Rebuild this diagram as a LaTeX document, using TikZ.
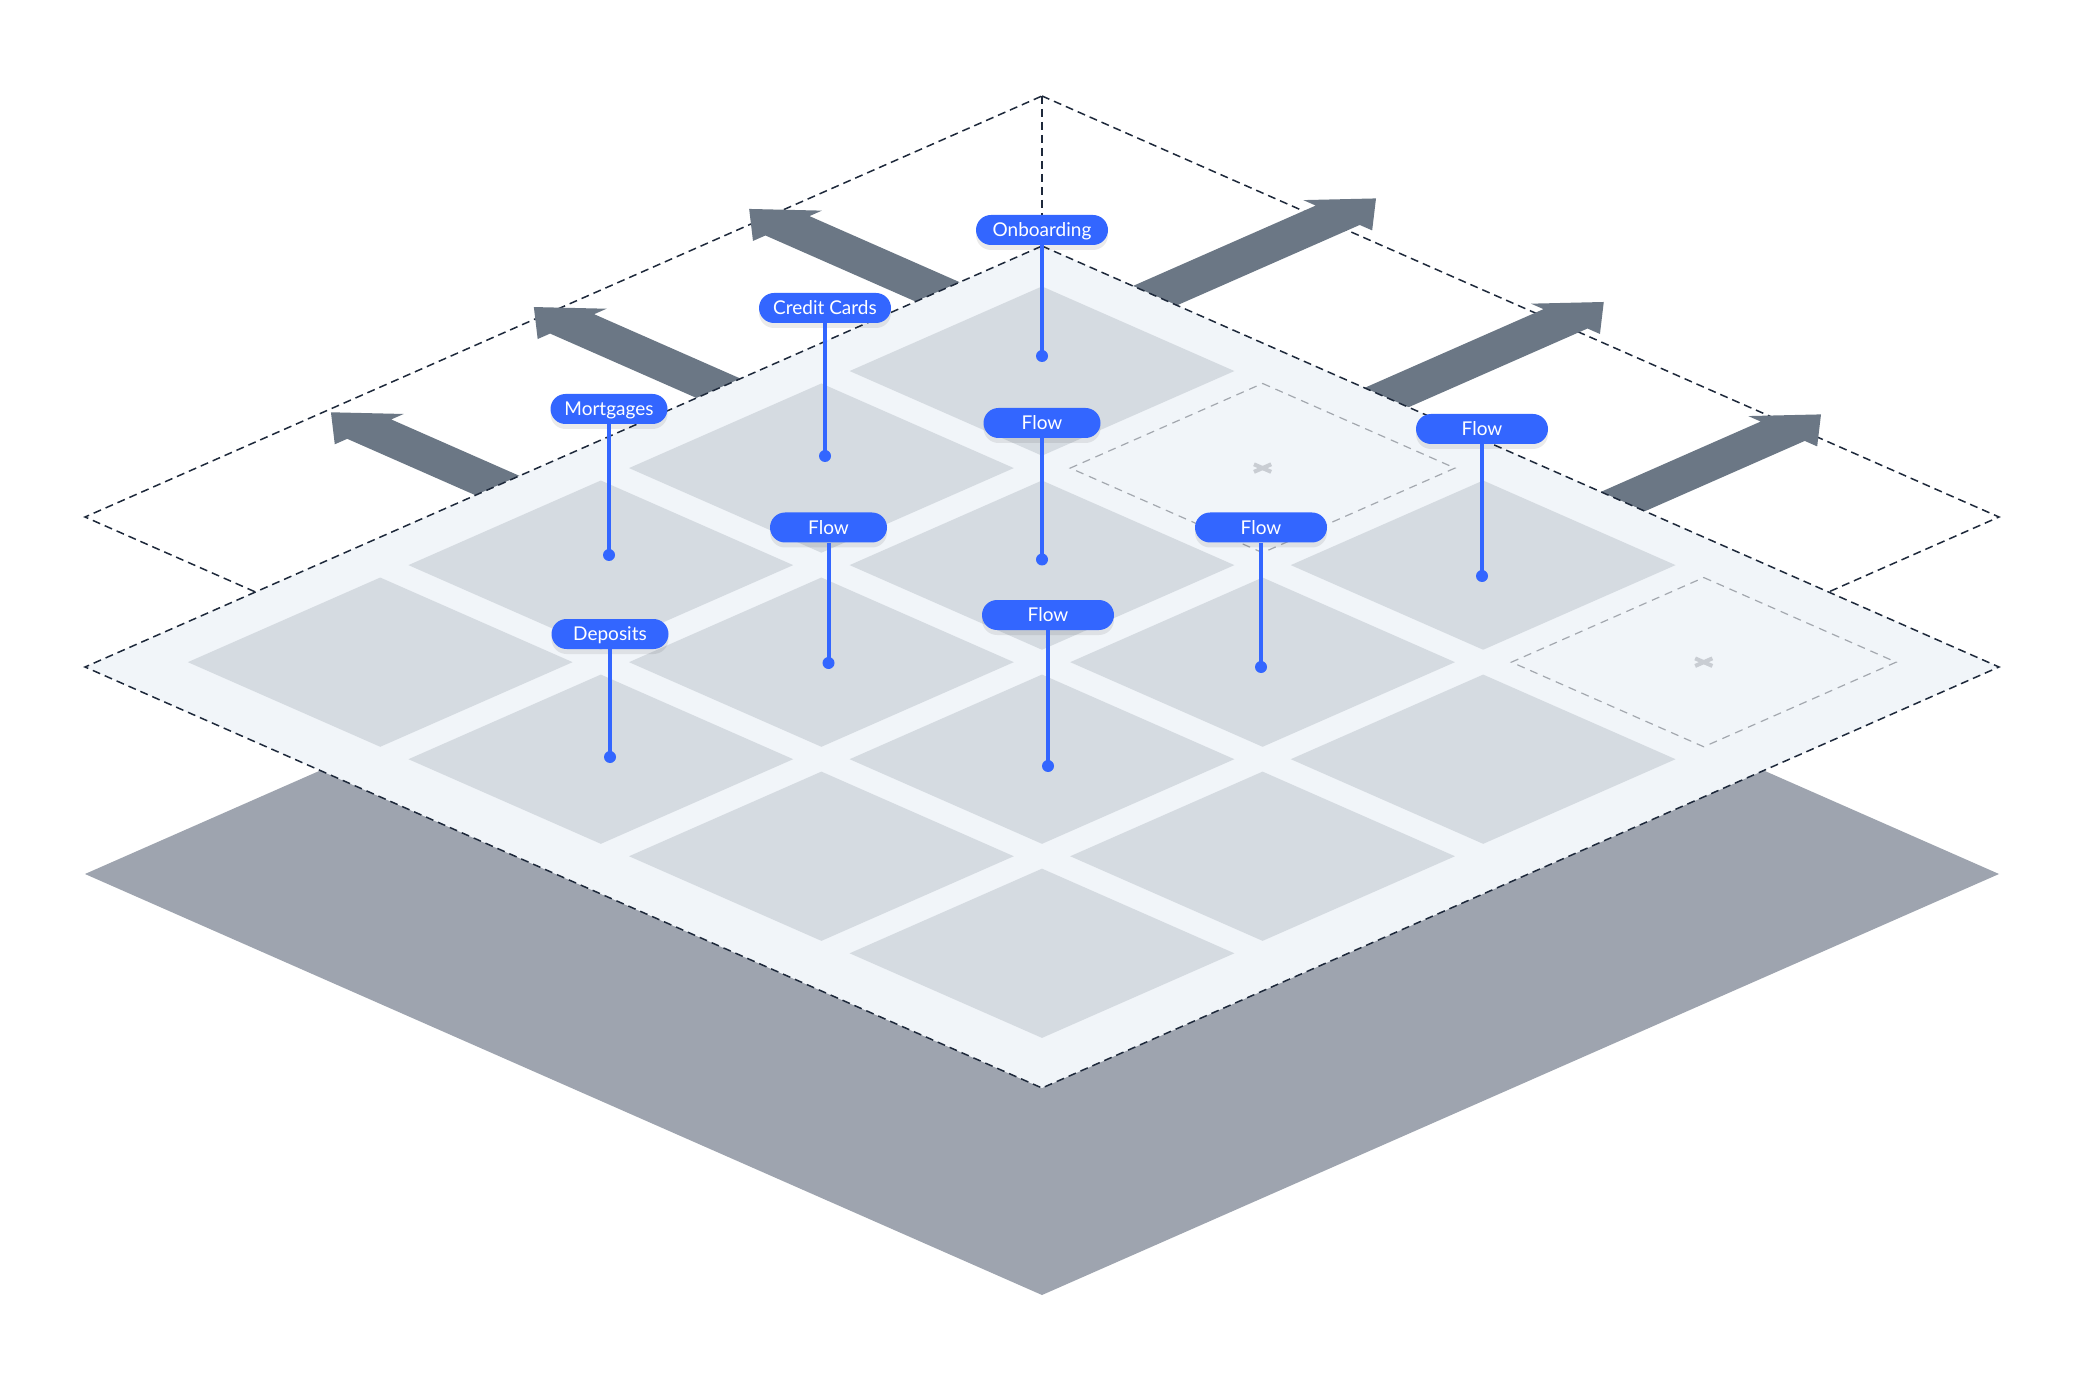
\documentclass[tikz,border=0pt]{standalone}
\usepackage{fontspec}
\setmainfont{Lato}
\usetikzlibrary{shadows}
\definecolor{pillC}{HTML}{3366FF}
\definecolor{arrowC}{HTML}{6B7785}
\definecolor{darkC}{HTML}{9EA4AF}
\definecolor{planeC}{HTML}{F1F5F9}
\definecolor{cellC}{HTML}{D5DBE1}
\definecolor{edgeC}{HTML}{1E293B}
\definecolor{emptyC}{HTML}{A3A8AF}
\definecolor{xmarkC}{HTML}{C9CDD3}
\begin{document}
\begin{tikzpicture}[x=0.5pt,y=-0.5pt,
  edgedash/.style={draw=edgeC, line width=0.75pt, dash pattern=on 4pt off 2.5pt},
  emptycell/.style={draw=emptyC, line width=0.6pt, dash pattern=on 4pt off 3pt},
  xmarkline/.style={draw=xmarkC, line width=2pt},
  pill/.style={fill=pillC, rounded corners=7.5pt, minimum height=15pt, inner sep=0pt,
    text=white, font=\fontsize{9.5}{11}\selectfont, text height=6.8pt, text depth=0pt,
    drop shadow={shadow xshift=0pt, shadow yshift=-2.5pt, fill=black, opacity=0.08}},
  pillwide/.style={pill, minimum width=66pt},
  pillnarrow/.style={pill, minimum width=58.5pt},
  stem/.style={draw=pillC, line width=2pt},
  pin/.style={fill=pillC}
]
\useasboundingbox (0,0) rectangle (2084,1390);
\fill[white] (0,0) rectangle (2084,1390);

\begin{scope}[xshift=521pt, yshift=-123pt, x={(478.5pt,-210.5pt)}, y={(-478.5pt,-210.5pt)}]
  % base plane
  \begin{scope}[yshift=-103.5pt]
    \fill[darkC] (0,0) -- (1,0) -- (1,1) -- (0,1) -- cycle;
  \end{scope}
  % upper dashed plane
  \begin{scope}[yshift=75pt]
    \draw[edgedash] (0,0) -- (1,0) -- (1,1) -- (0,1) -- cycle;
    \coordinate (uptop) at (0,0);
  \end{scope}
  \coordinate (pltop) at (0,0);
  \draw[edgedash] (uptop) -- (pltop);
  % arrows to the upper left
  \foreach \c/\t in {0.569/-0.174, 0.338/-0.193, 0.109/-0.197}{
    \fill[arrowC] (\t,\c) -- ({\t+0.04},{\c-0.036}) -- ({\t+0.04},{\c-0.023})
      -- (0.03,{\c-0.023}) -- (0.03,{\c+0.023}) -- ({\t+0.04},{\c+0.023})
      -- ({\t+0.04},{\c+0.036}) -- cycle;
  }
  % arrows to the upper right
  \foreach \c/\t in {0.118/-0.231, 0.36/-0.227, 0.607/-0.207}{
    \fill[arrowC] (\c,\t) -- ({\c-0.036},{\t+0.04}) -- ({\c-0.023},{\t+0.04})
      -- ({\c-0.023},0.03) -- ({\c+0.023},0.03) -- ({\c+0.023},{\t+0.04})
      -- ({\c+0.036},{\t+0.04}) -- cycle;
  }
  % grid plane
  \filldraw[fill=planeC, edgedash] (0,0) -- (1,0) -- (1,1) -- (0,1) -- cycle;
  % filled cells
  \foreach \i/\j in {0/0,0/1,0/2,0/3,1/1,1/2,1/3,2/0,2/1,2/2,2/3,3/1,3/2,3/3}{
    \fill[cellC] ({0.048+0.2305*\i},{0.048+0.2305*\j}) -- ++(0.201,0) -- ++(0,0.201) -- ++(-0.201,0) -- cycle;
  }
  % empty cells
  \foreach \i/\j in {1/0,3/0}{
    \draw[emptycell] ({0.048+0.2305*\i},{0.048+0.2305*\j}) -- ++(0.201,0) -- ++(0,0.201) -- ++(-0.201,0) -- cycle;
    \draw[xmarkline] ({0.1485+0.2305*\i-0.009},{0.1485+0.2305*\j}) -- ++(0.018,0);
    \draw[xmarkline] ({0.1485+0.2305*\i},{0.1485+0.2305*\j-0.009}) -- ++(0,0.018);
  }
\end{scope}

% label pins
\coordinate (onbD) at (1042,356);
\coordinate (ccD) at (825,456);
\coordinate (mortD) at (609,555);
\coordinate (depD) at (610,757);
\coordinate (f1D) at (1042,559.5);
\coordinate (f2D) at (1482,576);
\coordinate (f3D) at (1261,667);
\coordinate (f4D) at (828.5,663);
\coordinate (f5D) at (1048,766);

\node[pillwide] (onb) at (1042,230) {Onboarding};
\node[pillwide] (cc) at (825,308) {Credit Cards};
\node[pillnarrow] (mort) at (609,409) {Mortgages};
\node[pillnarrow] (dep) at (610,634) {Deposits};
\node[pillnarrow] (f1) at (1042,423) {Flow};
\node[pillwide] (f2) at (1482,429) {Flow};
\node[pillwide] (f3) at (1261,527.5) {Flow};
\node[pillnarrow] (f4) at (828.5,527.5) {Flow};
\node[pillwide] (f5) at (1048,615) {Flow};

\foreach \n in {onb,cc,mort,dep,f1,f2,f3,f4,f5}{
  \draw[stem] (\n.south) -- (\n D);
  \fill[pin] (\n D) circle[radius=3pt];
}
\end{tikzpicture}
\end{document}
